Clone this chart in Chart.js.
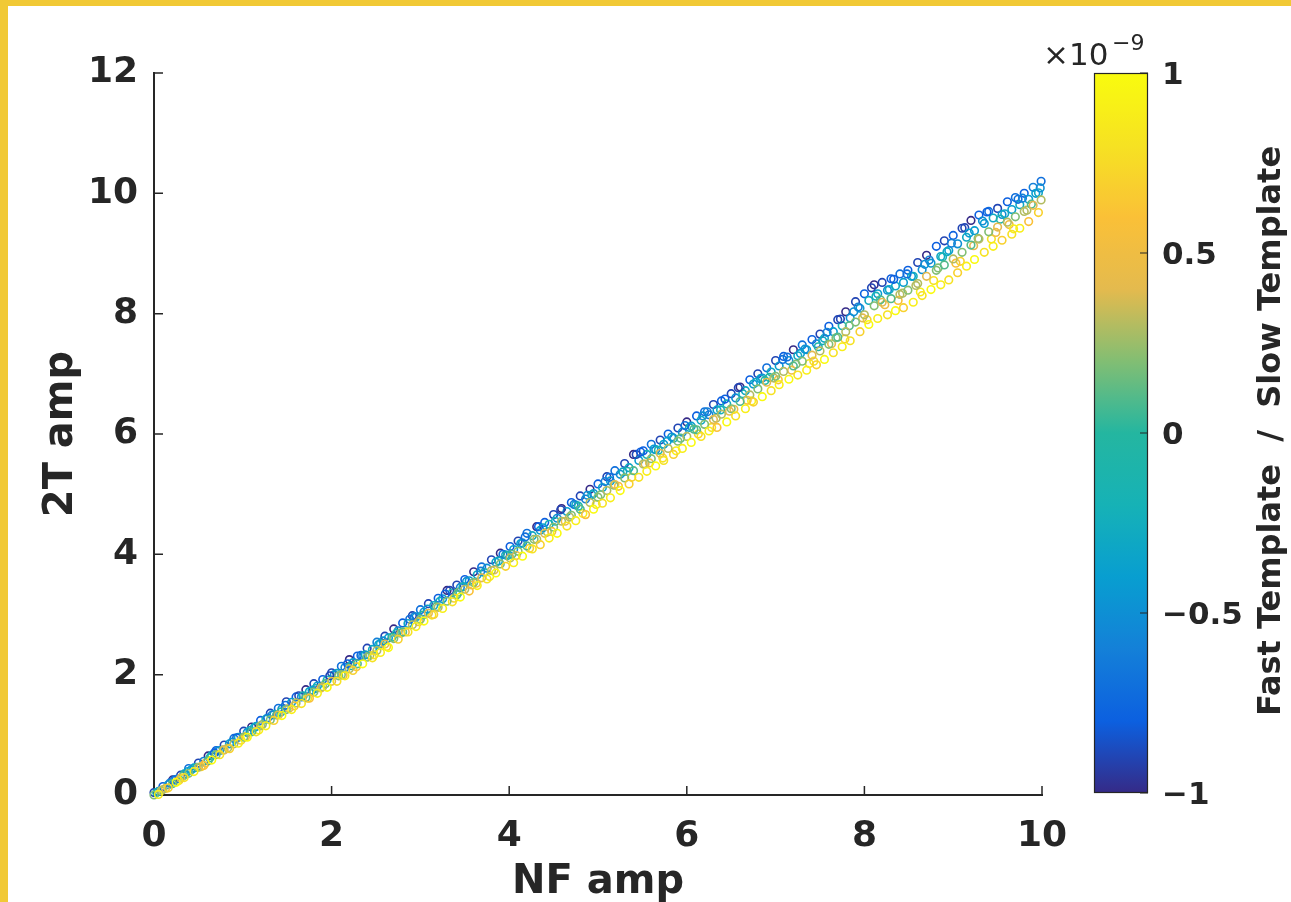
<!DOCTYPE html>
<html><head><meta charset="utf-8">
<script src="https://cdn.jsdelivr.net/npm/chart.js@4/dist/chart.umd.min.js"></script>
<style>
html,body{margin:0;padding:0;background:#fff;}
#wrap{position:relative;width:1291px;height:902px;overflow:hidden;background:#fff;}
canvas{display:block;}
.bl{position:absolute;left:0;top:0;width:8px;height:902px;background:#F1C935;}
.bt{position:absolute;left:0;top:0;width:1291px;height:6px;background:#F1C935;}
</style></head><body>
<div id="wrap"><canvas id="c" width="1291" height="902"></canvas><div class="bl"></div><div class="bt"></div></div>
<script>
// ---- data ----
const xTicks = [0, 2, 4, 6, 8, 10];
const yTicks = [0, 2, 4, 6, 8, 10, 12];
const cbarTicks = [-1, -0.5, 0, 0.5, 1];
const cbarTickLabels = ['\u22121', '\u22120.5', '0', '0.5', '1'];

const nfAmpA = [
0.00,0.10,0.21,0.30,0.39,0.50,0.61,0.70,0.79,0.90,
1.01,1.10,1.20,1.31,1.40,1.49,1.60,1.71,1.80,1.90,
2.00,2.11,2.20,2.29,2.40,2.51,2.60,2.70,2.80,2.91,
3.00,3.09,3.20,3.30,3.41,3.50,3.60,3.69,3.80,3.90,
4.01,4.10,4.20,4.31,4.40,4.50,4.59,4.70,4.80,4.91,
5.00,5.10,5.19,5.30,5.40,5.51,5.60,5.70,5.79,5.90,
6.00,6.11,6.20,6.30,6.39,6.50,6.60,6.71,6.80,6.90,
7.00,7.09,7.20,7.30,7.41,7.50,7.60,7.70,7.79,7.90,
8.00,8.11,8.20,8.30,8.40,8.49,8.60,8.70,8.81,8.90,
9.00,9.10,9.20,9.29,9.40,9.50,9.61,9.70,9.80,9.90,
9.99];
const nfAmpB = [
0.05,0.16,0.25,0.34,0.45,0.56,0.65,0.74,0.85,0.95,
1.05,1.15,1.26,1.35,1.44,1.55,1.66,1.75,1.84,1.95,
2.06,2.15,2.24,2.35,2.46,2.55,2.64,2.75,2.86,2.95,
3.04,3.15,3.25,3.36,3.45,3.55,3.64,3.75,3.85,3.96,
4.05,4.15,4.26,4.35,4.45,4.54,4.65,4.75,4.86,4.95,
5.05,5.14,5.25,5.35,5.46,5.55,5.65,5.74,5.85,5.95,
6.05,6.16,6.25,6.34,6.45,6.55,6.66,6.75,6.85,6.95,
7.04,7.15,7.25,7.35,7.46,7.55,7.65,7.75,7.84,7.95,
8.05,8.15,8.26,8.35,8.44,8.55,8.65,8.75,8.86,8.95,
9.05,9.15,9.24,9.35,9.45,9.55,9.66,9.75,9.85,9.96];
const nfAmpC = [
0.03,0.13,0.23,0.33,0.42,0.53,0.63,0.72,0.83,0.93,
1.03,1.13,1.22,1.33,1.43,1.52,1.63,1.73,1.82,1.93,
2.03,2.13,2.22,2.33,2.43,2.53,2.62,2.73,2.83,2.93,
3.03,3.13,3.22,3.33,3.43,3.52,3.63,3.72,3.83,3.93,
4.03,4.13,4.23,4.33,4.43,4.52,4.63,4.73,4.83,4.93,
5.03,5.13,5.23,5.33,5.43,5.53,5.63,5.73,5.83,5.93,
6.03,6.13,6.23,6.33,6.43,6.53,6.63,6.73,6.83,6.93,
7.03,7.13,7.23,7.33,7.43,7.53,7.63,7.73,7.83,7.93,
8.03,8.13,8.23,8.33,8.43,8.53,8.63,8.73,8.83,8.93,
9.03,9.13,9.23,9.33,9.43,9.53,9.63,9.73,9.83,9.93];
const nfAmpD = [
0.08,0.18,0.28,0.38,0.48,0.58,0.68,0.78,0.88,0.98,
1.08,1.18,1.28,1.38,1.48,1.58,1.68,1.78,1.88,1.98,
2.08,2.18,2.28,2.38,2.48,2.58,2.68,2.78,2.88,2.98,
3.08,3.18,3.28,3.38,3.48,3.58,3.68,3.78,3.88,3.98,
4.08,4.18,4.28,4.38,4.48,4.58,4.68,4.78,4.88,4.98,
5.08,5.18,5.28,5.38,5.48,5.58,5.68,5.78,5.88,5.98,
6.08,6.18,6.28,6.38,6.48,6.58,6.68,6.78,6.88,6.98,
7.08,7.18,7.28,7.38,7.48,7.58,7.68,7.78,7.88,7.98,
8.08,8.18,8.28,8.38,8.48,8.58,8.68,8.78,8.88,8.98,
9.08,9.18,9.28,9.38,9.48,9.58,9.68,9.78,9.88,9.98];

const twoTAmpBlue = [
0.04,0.14,0.25,0.33,0.44,0.53,0.65,0.74,0.83,0.94,
1.06,1.13,1.24,1.36,1.44,1.55,1.63,1.75,1.85,1.92,
2.03,2.14,2.25,2.31,2.44,2.54,2.64,2.76,2.86,2.98,
3.08,3.18,3.27,3.40,3.49,3.58,3.71,3.79,3.91,4.02,
4.13,4.22,4.35,4.46,4.53,4.66,4.76,4.86,4.97,5.08,
5.17,5.29,5.39,5.51,5.66,5.72,5.83,5.90,6.00,6.10,
6.20,6.30,6.37,6.49,6.55,6.67,6.78,6.90,7.00,7.10,
7.22,7.29,7.40,7.48,7.57,7.66,7.79,7.90,8.03,8.20,
8.33,8.48,8.52,8.58,8.66,8.72,8.85,8.97,9.12,9.21,
9.30,9.42,9.55,9.64,9.70,9.75,9.86,9.93,10.00,10.10,
10.20];
const ratioBlue = [
-0.9,-0.8,-1,-0.9,-0.7,-0.9,-1,-0.8,-0.9,-0.7,
-0.9,-1,-0.8,-0.9,-0.7,-0.9,-0.8,-1,-0.9,-0.8,
-0.9,-0.7,-1,-0.8,-0.9,-0.6,-0.9,-1,-0.8,-0.9,
-0.7,-0.9,-0.8,-1,-0.9,-0.8,-1,-0.7,-0.9,-1,
-0.8,-0.9,-0.7,-1,-0.8,-0.9,-1,-0.8,-0.9,-1,
-0.8,-0.9,-0.7,-0.9,-1,-0.8,-0.7,-0.9,-0.8,-0.9,
-1,-0.8,-0.7,-0.9,-0.8,-0.9,-1,-0.8,-0.9,-0.7,
-0.9,-0.8,-1,-0.7,-0.8,-0.9,-0.8,-0.9,-1,-0.9,
-0.8,-1,-0.9,-0.8,-0.7,-0.8,-0.9,-1,-0.8,-0.9,
-0.8,-0.9,-1,-0.8,-0.7,-0.9,-0.8,-0.7,-0.8,-0.6,
-0.7];

const twoTAmpGreen = [
0.00,0.09,0.19,0.28,0.36,0.46,0.57,0.67,0.75,0.85,
0.96,1.05,1.15,1.25,1.33,1.42,1.53,1.62,1.71,1.80,
1.89,2.00,2.10,2.18,2.29,2.40,2.51,2.60,2.71,2.83,
2.92,3.02,3.12,3.22,3.33,3.42,3.53,3.61,3.73,3.84,
3.94,4.05,4.14,4.25,4.35,4.45,4.55,4.65,4.75,4.86,
4.95,5.06,5.16,5.27,5.39,5.50,5.59,5.68,5.76,5.88,
5.96,6.07,6.16,6.24,6.33,6.42,6.54,6.65,6.75,6.86,
6.96,7.04,7.13,7.21,7.31,7.38,7.49,7.61,7.70,7.86,
7.98,8.13,8.19,8.25,8.32,8.39,8.50,8.62,8.72,8.81,
8.91,9.02,9.14,9.24,9.36,9.44,9.52,9.61,9.70,9.80,
9.89];
const ratioGreen = [
0.2,0.3,0.1,0.4,0.2,0.3,0.1,0.2,0.4,0.3,
0.2,0.1,0.3,0.2,0.4,0.2,0.3,0.1,0.2,0.3,
0.4,0.2,0.3,0.1,0.2,0.3,0.4,0.2,0.1,0.3,
0.2,0.4,0.3,0.2,0.1,0.3,0.2,0.4,0.3,0.2,
0.3,0.2,0.1,0.3,0.4,0.2,0.3,0.2,0.1,0.3,
0.2,0.3,0.4,0.2,0.1,0.3,0.2,0.4,0.3,0.2,
0.3,0.1,0.2,0.4,0.3,0.2,0.1,0.3,0.2,0.4,
0.2,0.3,0.1,0.2,0.4,0.3,0.2,0.1,0.3,0.2,
0.3,0.2,0.4,0.1,0.3,0.2,0.3,0.4,0.2,0.1,
0.3,0.2,0.1,0.3,0.2,0.4,0.3,0.2,0.3,0.4,
0.3];

const twoTAmpCyan = [
0.06,0.17,0.26,0.35,0.45,0.56,0.66,0.74,0.85,0.96,
1.04,1.14,1.26,1.34,1.43,1.54,1.63,1.72,1.81,1.91,
2.02,2.12,2.20,2.31,2.42,2.52,2.61,2.73,2.85,2.96,
3.04,3.15,3.26,3.36,3.45,3.56,3.66,3.77,3.87,3.99,
4.08,4.19,4.31,4.40,4.50,4.60,4.71,4.82,4.92,5.01,
5.11,5.22,5.33,5.44,5.56,5.66,5.74,5.83,5.93,6.03,
6.13,6.23,6.32,6.40,6.50,6.60,6.72,6.83,6.93,7.03,
7.13,7.22,7.30,7.40,7.50,7.59,7.70,7.80,7.93,8.09,
8.22,8.33,8.39,8.46,8.52,8.62,8.73,8.84,8.95,9.05,
9.16,9.27,9.38,9.50,9.59,9.65,9.73,9.81,9.90,10.01];
const ratioCyan = [
-0.4,-0.3,-0.5,-0.2,-0.4,-0.6,-0.3,-0.5,-0.4,-0.3,
-0.5,-0.4,-0.2,-0.3,-0.5,-0.4,-0.6,-0.3,-0.4,-0.2,
-0.3,-0.5,-0.4,-0.6,-0.3,-0.2,-0.4,-0.5,-0.3,-0.4,
-0.5,-0.3,-0.4,-0.2,-0.6,-0.4,-0.3,-0.5,-0.4,-0.3,
-0.4,-0.5,-0.3,-0.4,-0.2,-0.5,-0.4,-0.3,-0.6,-0.4,
-0.3,-0.4,-0.5,-0.3,-0.4,-0.2,-0.5,-0.4,-0.3,-0.5,
-0.4,-0.3,-0.6,-0.4,-0.2,-0.5,-0.3,-0.4,-0.5,-0.3,
-0.4,-0.5,-0.3,-0.4,-0.6,-0.3,-0.4,-0.2,-0.5,-0.4,
-0.3,-0.4,-0.5,-0.3,-0.4,-0.2,-0.5,-0.4,-0.3,-0.4,
-0.5,-0.3,-0.4,-0.4,-0.3,-0.5,-0.4,-0.3,-0.4,-0.3];

const twoTAmpYellow = [
0.01,0.12,0.21,0.29,0.39,0.49,0.58,0.67,0.77,0.86,
0.96,1.05,1.15,1.24,1.32,1.42,1.52,1.61,1.69,1.79,
1.89,1.98,2.07,2.18,2.28,2.37,2.45,2.59,2.71,2.80,
2.89,3.00,3.10,3.21,3.29,3.39,3.48,3.59,3.69,3.80,
3.86,3.97,4.09,4.16,4.27,4.35,4.47,4.56,4.66,4.75,
4.85,4.94,5.06,5.17,5.28,5.38,5.47,5.56,5.66,5.76,
5.86,5.96,6.05,6.11,6.20,6.30,6.42,6.53,6.62,6.72,
6.82,6.91,6.98,7.06,7.15,7.24,7.35,7.45,7.55,7.70,
7.82,7.92,7.98,8.05,8.10,8.19,8.30,8.40,8.48,8.56,
8.68,8.79,8.90,9.02,9.12,9.22,9.32,9.42,9.53,9.68];
const ratioYellow = [
0.9,0.7,1,0.8,0.9,0.6,1,0.8,0.7,0.9,
1,0.8,0.9,0.7,1,0.9,0.8,0.6,0.9,1,
0.8,0.9,0.7,1,0.8,0.9,1,0.7,0.8,0.9,
1,0.7,0.9,0.8,1,0.6,0.9,0.8,1,0.7,
0.9,1,0.8,0.7,0.9,1,0.8,0.9,0.6,1,
0.8,0.9,1,0.7,0.8,0.9,1,0.8,0.7,0.9,
1,0.8,0.9,0.6,1,0.8,0.9,0.7,1,0.8,
0.9,1,0.8,0.9,0.7,1,0.8,0.9,0.8,0.7,
1,0.9,0.8,1,0.7,0.9,0.8,1,0.9,0.8,
0.7,0.9,1,0.8,0.9,0.7,0.8,0.9,0.6,0.7];

const twoTAmpMixC = [
0.04,0.11,0.25,0.32,0.42,0.47,0.62,0.73,0.78,0.95,
0.97,1.12,1.17,1.33,1.38,1.44,1.65,1.61,1.77,1.85,
2.00,1.99,2.15,2.32,2.32,2.50,2.47,2.69,2.71,2.96,
2.99,2.99,3.22,3.40,3.37,3.55,3.52,3.70,3.74,4.00,
4.00,4.18,4.10,4.46,4.37,4.55,4.55,4.83,4.68,4.99,
4.99,5.28,5.13,5.38,5.66,5.50,5.75,5.60,5.95,5.93,
6.11,6.00,6.37,6.26,6.58,6.41,6.67,6.55,6.92,6.94,
6.90,7.28,7.16,7.41,7.21,7.55,7.50,7.91,7.80,8.11,
7.90,8.29,8.15,8.57,8.34,8.62,8.36,8.89,8.76,9.03,
8.84,9.43,9.13,9.54,9.24,9.57,9.48,9.90,9.72,10.00];
const ratioMixC = [
-0.2,0.5,-0.7,0.1,-0.4,0.7,-0.1,-0.5,0.3,-0.8,
0.6,-0.3,0.2,-0.6,0,0.4,-0.9,0.8,-0.2,0.1,
-0.5,0.6,-0.1,-0.7,0.3,-0.4,0.7,-0.2,0.5,-0.6,
0,0.8,-0.3,-0.9,0.2,-0.5,0.6,-0.1,0.4,-0.7,
0.1,-0.4,0.7,-0.8,0.3,-0.2,0.5,-0.6,0.9,-0.3,
0.2,-0.7,0.6,-0.1,-0.9,0.4,-0.4,0.8,-0.5,0.1,
-0.3,0.7,-0.6,0.3,-0.8,0.5,-0.2,0.9,-0.4,0,
0.6,-0.7,0.2,-0.5,0.8,-0.3,0.4,-0.9,0.1,-0.6,
0.7,-0.2,0.5,-0.8,0.3,-0.4,0.9,-0.6,0.2,-0.3,
0.6,-0.9,0.4,-0.5,0.8,-0.1,0.5,-0.7,0.3,-0.4];

const twoTAmpMixD = [
0.07,0.20,0.24,0.39,0.46,0.53,0.70,0.75,0.88,0.91,
1.07,1.08,1.28,1.33,1.49,1.48,1.65,1.74,1.78,1.98,
1.98,2.18,2.13,2.33,2.33,2.56,2.62,2.69,2.92,2.88,
3.09,3.13,3.34,3.27,3.46,3.49,3.72,3.63,3.89,3.98,
3.98,4.29,4.25,4.44,4.38,4.74,4.62,4.80,4.98,4.83,
5.21,5.15,5.37,5.28,5.70,5.52,5.73,5.88,5.72,6.14,
6.08,6.30,6.11,6.40,6.38,6.77,6.56,6.86,6.89,6.93,
7.24,7.06,7.34,7.17,7.45,7.69,7.60,7.58,8.03,7.93,
8.43,8.23,8.40,8.22,8.66,8.47,8.82,8.55,8.94,9.17,
8.87,9.34,9.25,9.69,9.35,9.66,9.41,9.92,9.82,10.09];
const ratioMixD = [
0.3,-0.6,0.8,-0.4,-0.1,0.5,-0.8,0.2,-0.5,0.7,
-0.3,0.9,-0.6,0.1,-0.7,0.6,-0.2,-0.4,0.4,-0.9,
0.2,-0.8,0.6,-0.3,0.8,-0.5,0,0.3,-0.7,0.5,
-0.4,0.1,-0.8,0.7,-0.2,0.4,-0.6,0.9,-0.3,-0.1,
0.5,-0.7,0.2,-0.4,0.6,-0.9,0.3,-0.1,-0.5,0.8,
-0.6,0.2,-0.3,0.7,-0.8,0.5,-0.1,-0.4,0.9,-0.7,
0.1,-0.5,0.8,-0.2,0.4,-0.9,0.6,-0.3,0,0.3,
-0.7,0.5,-0.4,0.8,-0.1,-0.6,0.2,0.7,-0.5,0.4,
-0.9,0.1,-0.3,0.6,-0.7,0.3,-0.5,0.8,-0.2,-0.6,
0.7,-0.4,0.2,-0.8,0.5,-0.3,0.9,-0.6,0.1,-0.5];

// ---- styling ----
const INK = '#262626';
const FONT = "'DejaVu Sans', sans-serif";
const parulaStops = [
 [53,42,135],[12,96,224],[20,128,216],[8,158,208],[22,178,182],
 [36,182,160],[130,190,115],[228,186,78],[250,192,55],[246,226,34],[249,251,14]];
function parula(t){
  t = Math.max(0, Math.min(1, t));
  const n = parulaStops.length - 1;
  const f = t * n, i = Math.min(n - 1, Math.floor(f)), u = f - i;
  const a = parulaStops[i], b = parulaStops[i + 1];
  const c = a.map((v, k) => Math.round(v + (b[k] - v) * u));
  return 'rgb(' + c.join(',') + ')';
}
const cMin = -1, cMax = 1;
const colorOf = v => parula((v - cMin) / (cMax - cMin));

function makeSet(xs, ys, rs){
  return {
    data: xs.map((x, i) => ({x: x, y: ys[i]})),
    showLine: false,
    pointRadius: 3.8,
    pointHoverRadius: 3.8,
    pointBorderWidth: 1.6,
    pointBackgroundColor: 'rgba(0,0,0,0)',
    pointBorderColor: ctx => colorOf(rs[ctx.dataIndex]),
    clip: false
  };
}

const axesPlugin = {
  id: 'matlabAxes',
  afterDraw(chart){
    const ctx = chart.ctx, a = chart.chartArea;
    const xs = chart.scales.x, ys = chart.scales.y;
    ctx.save();
    ctx.strokeStyle = INK; ctx.lineWidth = 1.5;
    ctx.beginPath();
    xTicks.forEach(v => { if (v === 0) return; const p = xs.getPixelForValue(v); ctx.moveTo(p, a.bottom); ctx.lineTo(p, a.bottom - 9); });
    yTicks.forEach(v => { if (v === 0) return; const p = ys.getPixelForValue(v); ctx.moveTo(a.left, p); ctx.lineTo(a.left + 9, p); });
    ctx.stroke();

    // colorbar
    const L = 1094, R = 1148, T = a.top, B = a.bottom - 2;
    const g = ctx.createLinearGradient(0, B, 0, T);
    for (let k = 0; k <= 40; k++) g.addColorStop(k / 40, parula(k / 40));
    ctx.fillStyle = g; ctx.fillRect(L, T, R - L, B - T);
    ctx.strokeStyle = INK; ctx.lineWidth = 1.2;
    ctx.strokeRect(L + 0.5, T + 0.5, R - L - 1, B - T - 1);
    const cpos = v => B - (v - cMin) / (cMax - cMin) * (B - T);
    ctx.beginPath();
    cbarTicks.forEach(v => { const p = cpos(v); ctx.moveTo(R, p); ctx.lineTo(R - 8, p); });
    ctx.stroke();
    ctx.fillStyle = INK;
    ctx.font = 'bold 31px ' + FONT;
    ctx.textAlign = 'left'; ctx.textBaseline = 'middle';
    cbarTicks.forEach((v, i) => ctx.fillText(cbarTickLabels[i], R + 14, cpos(v) + 3));
    // exponent
    ctx.textBaseline = 'alphabetic';
    ctx.font = '31px ' + FONT;
    ctx.fillText('\u00d710', 1043, 65);
    ctx.font = '22px ' + FONT;
    ctx.fillText('\u22129', 1112, 50);
    // colorbar label
    ctx.save();
    ctx.translate(1272, 431);
    ctx.rotate(-Math.PI / 2);
    ctx.font = 'bold 32px ' + FONT;
    ctx.textAlign = 'center'; ctx.textBaseline = 'middle';
    ctx.fillText('Fast Template  /  Slow Template', 0, 0);
    ctx.restore();
    ctx.restore();
  }
};

Chart.defaults.font.family = FONT;
new Chart(document.getElementById('c'), {
  type: 'scatter',
  data: { datasets: [
    makeSet(nfAmpB, twoTAmpYellow, ratioYellow),
    makeSet(nfAmpA, twoTAmpGreen, ratioGreen),
    makeSet(nfAmpD, twoTAmpMixD, ratioMixD),
    makeSet(nfAmpC, twoTAmpMixC, ratioMixC),
    makeSet(nfAmpB, twoTAmpCyan, ratioCyan),
    makeSet(nfAmpA, twoTAmpBlue, ratioBlue)
  ]},
  options: {
    responsive: false, animation: false, devicePixelRatio: 1,
    layout: { padding: { left: 0, top: 73, right: 249, bottom: 0 } },
    plugins: { legend: { display: false }, tooltip: { enabled: false } },
    events: [],
    scales: {
      x: {
        type: 'linear', min: 0, max: 10,
        afterBuildTicks: s => { s.ticks = xTicks.map(v => ({ value: v })); },
        afterFit: s => { s.height = 107; },
        ticks: { color: INK, font: { size: 36, weight: 'bold' }, padding: 20, maxRotation: 0, autoSkip: false },
        grid: { display: false, drawTicks: false },
        border: { display: true, color: INK, width: 2 },
        title: { display: true, text: 'NF amp', color: INK, font: { size: 40, weight: 'bold', lineHeight: 0.95 }, padding: { top: 0, bottom: 0 } }
      },
      y: {
        type: 'linear', min: 0, max: 12,
        afterBuildTicks: s => { s.ticks = yTicks.map(v => ({ value: v })); },
        afterFit: s => { s.width = 154; },
        ticks: { color: INK, font: { size: 36, weight: 'bold' }, padding: 16, autoSkip: false },
        grid: { display: false, drawTicks: false },
        border: { display: true, color: INK, width: 2 },
        title: { display: true, text: '2T amp', color: INK, font: { size: 40, weight: 'bold', lineHeight: 0.95 }, padding: { top: 43, bottom: 0 } }
      }
    }
  },
  plugins: [axesPlugin]
});
</script>
</body></html>
